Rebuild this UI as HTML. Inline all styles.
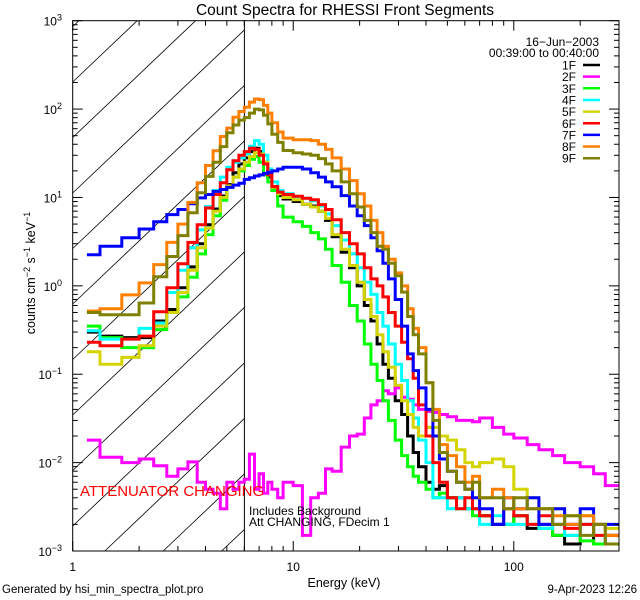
<!DOCTYPE html>
<html><head><meta charset="utf-8"><style>
html,body{margin:0;padding:0;background:#fff;width:640px;height:600px;overflow:hidden;}
svg{display:block;font-family:"Liberation Sans",sans-serif;}
</style></head><body>
<svg id="chart" width="640" height="600" viewBox="0 0 640 600" xmlns="http://www.w3.org/2000/svg">
<defs><clipPath id="plotclip"><rect x="72.7" y="20.7" width="546.3" height="530.3"/></clipPath></defs>
<rect width="640" height="600" fill="#fff"/>
<text x="345" y="15" font-size="15.5" text-anchor="middle">Count Spectra for RHESSI Front Segments</text>
<g id="hatch"></g>
<line x1="244.4" y1="20.7" x2="244.4" y2="551" stroke="#000" stroke-width="1"/>
<g id="series" clip-path="url(#plotclip)"></g>
<g id="axes"></g>
<text transform="translate(35,273) rotate(-90)" font-size="12.5" text-anchor="middle">counts cm<tspan dy="-5" font-size="9">−2</tspan><tspan dy="5"> s</tspan><tspan dy="-5" font-size="9">−1</tspan><tspan dy="5"> keV</tspan><tspan dy="-5" font-size="9">−1</tspan></text>
<text x="344" y="587" font-size="12.5" text-anchor="middle">Energy (keV)</text>
<text x="599" y="46" font-size="12" text-anchor="end">16−Jun−2003</text>
<text x="599" y="57" font-size="12" text-anchor="end">00:39:00 to 00:40:00</text>
<g id="legend"></g>
<text x="80" y="496" font-size="15" fill="#ff0000">ATTENUATOR CHANGING</text>
<text x="249" y="515" font-size="12">Includes Background</text>
<text x="249" y="526" font-size="12">Att CHANGING, FDecim 1</text>
<text x="2" y="593" font-size="11.5">Generated by hsi_min_spectra_plot.pro</text>
<text x="637" y="593" font-size="11.5" text-anchor="end">9-Apr-2023 12:26</text>
</svg>
<script>
const energyEdges = [1.16,1.33,1.67,2,2.33,2.67,3,3.33,3.67,4,4.33,4.67,5,5.33,5.67,6,6.33,6.67,7,7.33,7.67,8,8.5,9,10,11,12,13,14,15,16.5,18,19.5,21,22.5,24,25.5,27,29,31,33,35,37,40,43,46,50,55,60,65,70,80,90,100,115,130,150,170,200,230,260];
const energyEnd = 300;
const seriesNames = ["1F","2F","3F","4F","5F","6F","7F","8F","9F"];
const seriesColors = ["#000000","#ff00ff","#00ff00","#00ffff","#d4d400","#ff0000","#0000ff","#ff8000","#808000"];
const counts1F = [0.3,0.27,0.26,0.26,0.4,0.54,0.95,1.64,3.0,4.9,7.4,10.4,14,19,24,28,33,36,33,25,17,12.5,10.5,9.6,9.0,8.4,8.0,7.0,5.5,3.6,2.4,1.6,1.0,0.6,0.4,0.22,0.13,0.09,0.05,0.035,0.02,0.013,0.009,0.006,0.005,0.0055,0.004,0.004,0.003,0.003,0.0025,0.002,0.002,0.0025,0.0018,0.002,0.0015,0.0012,0.002,0.0012,0.0015];
const counts2F = [0.018,0.0115,0.01,0.011,0.0092,0.007,0.0085,0.0102,0.006,0.005,0.0045,0.003,0.006,0.005,0.006,0.0065,0.0125,0.005,0.0075,0.0045,0.006,0.005,0.004,0.006,0.0055,0.0015,0.004,0.0045,0.0085,0.008,0.015,0.02,0.021,0.032,0.045,0.05,0.065,0.06,0.07,0.055,0.052,0.045,0.04,0.038,0.037,0.035,0.033,0.03,0.03,0.029,0.032,0.025,0.021,0.019,0.016,0.014,0.012,0.01,0.009,0.0075,0.0055];
const counts3F = [0.35,0.26,0.2,0.2,0.32,0.5,0.75,1.25,2.3,3.8,6.2,9.3,13,17,20,23,27,29,25,18,15,12,8,6,5.3,4.7,4.0,3.4,2.6,1.7,1.1,0.6,0.4,0.22,0.13,0.085,0.05,0.03,0.018,0.012,0.009,0.007,0.006,0.005,0.004,0.0045,0.004,0.003,0.003,0.0025,0.0025,0.002,0.002,0.0025,0.002,0.0018,0.0015,0.0015,0.0013,0.0012,0.0012];
const counts4F = [0.31,0.25,0.25,0.33,0.38,0.84,1.5,2.7,4.3,7.9,12,17,22,25,28,31,38,44,40,30,21,15,12,11,10.2,9.8,9.2,8.0,6.5,4.8,3.3,2.3,1.6,1.1,0.8,0.5,0.35,0.22,0.13,0.085,0.05,0.032,0.018,0.01,0.004,0.004,0.003,0.004,0.003,0.003,0.002,0.0025,0.002,0.002,0.002,0.0018,0.002,0.0015,0.002,0.0015,0.0012];
const counts5F = [0.18,0.13,0.155,0.21,0.35,0.5,0.84,1.5,2.7,4.5,7,10,13.5,17,21,25,29,32,31,25,18,13,11,10,9.4,8.4,7.8,7.0,5.8,3.8,2.6,1.7,1.1,0.7,0.45,0.28,0.18,0.12,0.075,0.05,0.035,0.025,0.02,0.025,0.025,0.02,0.018,0.014,0.01,0.009,0.01,0.011,0.009,0.005,0.004,0.003,0.003,0.0025,0.0025,0.002,0.0018];
const counts6F = [0.23,0.21,0.25,0.27,0.51,0.95,1.78,3.1,4.9,7.6,10.8,14.7,20.6,26,30,33,36,35,30,24,18,13.3,11.5,10.8,10.3,9.8,9.4,8.3,7.3,5.6,4.0,3.0,2.3,1.6,1.2,1.0,0.75,0.5,0.35,0.23,0.15,0.09,0.045,0.02,0.01,0.006,0.004,0.003,0.004,0.003,0.0025,0.002,0.003,0.0025,0.002,0.0025,0.002,0.0018,0.002,0.0015,0.0015];
const counts7F = [2.25,2.8,3.5,4.4,5.3,6.4,7.3,8.5,9.9,10.8,11.7,12.3,13,13.8,14.5,16,16.7,17.5,18,18.7,19.3,20,21,22,22,21,19,17,15,13.2,10.5,8,6.2,4.8,3.5,2.5,1.8,1.2,0.7,0.35,0.17,0.11,0.07,0.04,0.02,0.011,0.008,0.006,0.005,0.004,0.003,0.002,0.004,0.003,0.004,0.002,0.003,0.002,0.003,0.002,0.002];
const counts8F = [0.52,0.55,0.79,1.08,1.74,3.1,5.0,8.8,14.7,23,33.7,49,61,81,94,105,120,130,128,110,90,70,55,47,45,45,44,40,35,28,21,15.5,11,8,5.5,4,2.8,2,1.4,1.0,0.55,0.33,0.2,0.08,0.04,0.016,0.012,0.009,0.006,0.007,0.004,0.005,0.004,0.003,0.003,0.003,0.0025,0.002,0.0025,0.002,0.0015];
const counts9F = [0.5,0.47,0.47,0.64,1.27,2.15,3.7,6.7,11.3,17.3,25,37.6,54,66,75,80,90,100,98,85,68,52,42,34,32,31,30,27.5,24,20,15,11,7.8,5.5,4,2.8,2.6,1.8,1.3,0.85,0.45,0.28,0.17,0.08,0.03,0.013,0.008,0.006,0.005,0.006,0.004,0.004,0.003,0.004,0.003,0.003,0.002,0.0025,0.0015,0.002,0.0012];
const seriesCounts = [counts1F,counts2F,counts3F,counts4F,counts5F,counts6F,counts7F,counts8F,counts9F];
const xTickValues = [1,10,100];
const xTickLabels = ["1","10","100"];
const yTickExps = [-3,-2,-1,0,1,2,3];

const NS = "http://www.w3.org/2000/svg";
const L = 72.7, R = 619, T = 20.7, B = 551, HX = 244.4;
const xMin = 1, xMax = 300, yMinExp = -3, yMaxExp = 3;
function xs(e){ return L + (Math.log10(e) - Math.log10(xMin)) / (Math.log10(xMax) - Math.log10(xMin)) * (R - L); }
function ys(v){ return B - (Math.log10(v) - yMinExp) / (yMaxExp - yMinExp) * (B - T); }
function mk(tag, attrs, parent){ const el = document.createElementNS(NS, tag); for (const k in attrs) el.setAttribute(k, attrs[k]); parent.appendChild(el); return el; }

// hatch lines computed inside the hatch region (no overflow)
const hatch = document.getElementById('hatch');
const slope = 0.95;
for (let k = -4; k < 16; k++) {
  const c = 82 + 55.5 * k;
  // y = c - slope*(x-L); clip x to [L,HX], y to [T,B]
  let xa = L, xb = HX;
  const xAtB = L + (c - B) / slope, xAtT = L + (c - T) / slope;
  xa = Math.max(xa, xAtB); xb = Math.min(xb, xAtT);
  if (xb <= xa) continue;
  const ln = mk('line', {x1: xa.toFixed(1), y1: (c - slope * (xa - L)).toFixed(1), x2: xb.toFixed(1), y2: (c - slope * (xb - L)).toFixed(1), stroke: '#000', 'stroke-width': 0.8}, hatch);
  
  
}

const sg = document.getElementById('series');
seriesCounts.forEach((vals, si) => {
  let d = '';
  vals.forEach((v, i) => {
    const e0 = energyEdges[i];
    const e1 = i + 1 < energyEdges.length ? energyEdges[i + 1] : energyEnd;
    const vv = Math.max(v, 1e-3);
    d += (i === 0 ? 'M' : 'L') + xs(e0).toFixed(1) + ',' + ys(vv).toFixed(1) + 'L' + Math.min(xs(e1), R).toFixed(1) + ',' + ys(vv).toFixed(1);
  });
  const p = mk('path', {d: d, fill: 'none', stroke: seriesColors[si], 'stroke-width': 3, 'stroke-linejoin': 'miter'}, sg);
  
  
});

const ax = document.getElementById('axes');
const frame = mk('rect', {x: L, y: T, width: R - L, height: B - T, fill: 'none', stroke: '#000', 'stroke-width': 1}, ax);


for (let dec = 0; dec <= 2; dec++) {
  for (let m = 1; m <= 9; m++) {
    const e = m * Math.pow(10, dec);
    if (e > xMax) break;
    const x = xs(e); const len = m === 1 ? 10 : 5;
    const t1 = mk('line', {x1: x, y1: B, x2: x, y2: B - len, stroke: '#000', 'stroke-width': 1}, ax);
    
    
    const t2 = mk('line', {x1: x, y1: T, x2: x, y2: T + len, stroke: '#000', 'stroke-width': 1}, ax);
    
    
  }
}
xTickValues.forEach((v, i) => {
  const t = mk('text', {x: xs(v), y: 571, 'font-size': 12, 'text-anchor': 'middle'}, ax);
  t.textContent = xTickLabels[i];
  
  
});
yTickExps.forEach(ex => {
  for (let m = 1; m <= 9; m++) {
    if (ex === yMaxExp && m > 1) break;
    const y = ys(m * Math.pow(10, ex)); const len = m === 1 ? 10 : 5;
    const a = mk('line', {x1: L, y1: y, x2: L + len, y2: y, stroke: '#000', 'stroke-width': 1}, ax);
    
    
    const b = mk('line', {x1: R, y1: y, x2: R - len, y2: y, stroke: '#000', 'stroke-width': 1}, ax);
    
    
  }
  const y = ys(Math.pow(10, ex));
  const t = mk('text', {x: 62, y: y + 5, 'font-size': 12, 'text-anchor': 'end'}, ax);
  
  
  t.appendChild(document.createTextNode('10'));
  const sp = mk('tspan', {dy: -5, 'font-size': 9}, t);
  sp.textContent = ex < 0 ? '−' + (-ex) : String(ex);
});

const lg = document.getElementById('legend');
seriesNames.forEach((n, i) => {
  const y = 65 + i * 11.65;
  const t = mk('text', {x: 576, y: y + 4.5, 'font-size': 12, 'text-anchor': 'end'}, lg);
  t.textContent = n;
  
  
  const l = mk('line', {x1: 583, y1: y, x2: 600, y2: y, stroke: seriesColors[i], 'stroke-width': 2.5}, lg);
  
  
});
</script>
</body></html>
